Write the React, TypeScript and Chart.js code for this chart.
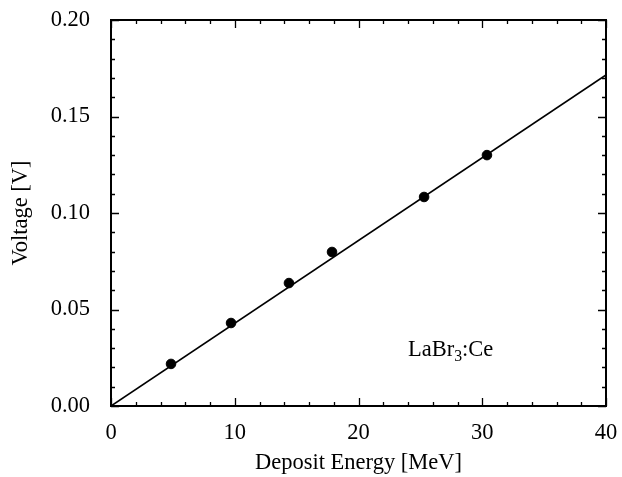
import React, { useEffect, useRef } from "react";
import { Chart, registerables } from "chart.js";

Chart.register(...registerables);

const energies = [4.85, 9.7, 14.38, 17.86, 25.3, 30.38];
const voltages = [0.0218, 0.043, 0.0637, 0.0798, 0.1083, 0.13];
const fitX = [0, 40];
const fitY = [0, 0.1715];
const xTicks = [0, 10, 20, 30, 40];
const yTicks = [0, 0.05, 0.1, 0.15, 0.2];
const xMinorStep = 2;
const yMinorStep = 0.01;
const labelPos = { x: 24.0, y: 0.0258 };
const FONT = "'Liberation Serif', 'Times New Roman', serif";
const FS = 22.5;

const framePlugin = {
  id: "frameTicks",
  afterDatasetsDraw(chart: any) {
    const { ctx, chartArea: a, scales } = chart;
    const xs = scales.x;
    const ys = scales.y;
    ctx.save();
    ctx.strokeStyle = "#000";
    ctx.lineWidth = 1.3;
    const major = 8;
    const minor = 4;
    const near = (v: number, arr: number[]) => arr.some((t) => Math.abs(t - v) < 1e-9);
    ctx.beginPath();
    for (let v = 0; v <= 40 + 1e-9; v += xMinorStep) {
      const px = Math.round(xs.getPixelForValue(v)) + 0.5;
      const len = near(v, xTicks) ? major : minor;
      ctx.moveTo(px, a.bottom);
      ctx.lineTo(px, a.bottom - len);
      ctx.moveTo(px, a.top);
      ctx.lineTo(px, a.top + len);
    }
    for (let i = 0; i <= 20; i++) {
      const v = i * yMinorStep;
      const py = Math.round(ys.getPixelForValue(v)) + 0.5;
      const len = near(Math.round(v * 1000) / 1000, yTicks) ? major : minor;
      ctx.moveTo(a.left, py);
      ctx.lineTo(a.left + len, py);
      ctx.moveTo(a.right, py);
      ctx.lineTo(a.right - len, py);
    }
    ctx.stroke();
    ctx.lineWidth = 2;
    ctx.strokeRect(a.left, a.top, a.right - a.left, a.bottom - a.top);

    // label
    const lx = xs.getPixelForValue(labelPos.x);
    const ly = ys.getPixelForValue(labelPos.y);
    ctx.fillStyle = "#000";
    ctx.textBaseline = "alphabetic";
    ctx.textAlign = "left";
    ctx.font = `${FS}px ${FONT}`;
    ctx.fillText("LaBr", lx, ly);
    let w = ctx.measureText("LaBr").width;
    ctx.font = `${FS * 0.7}px ${FONT}`;
    ctx.fillText("3", lx + w, ly + 5);
    w += ctx.measureText("3").width;
    ctx.font = `${FS}px ${FONT}`;
    ctx.fillText(":Ce", lx + w, ly);
    ctx.restore();
  },
};

const zeroPad = (s: any) => {
  s.paddingTop = 0;
  s.paddingBottom = 0;
  s.paddingLeft = 0;
  s.paddingRight = 0;
};

export default function App() {
  const ref = useRef<HTMLCanvasElement>(null);
  useEffect(() => {
    document.body.style.margin = "0";
    const ctx = ref.current!.getContext("2d")!;
    const chart = new Chart(ctx, {
      type: "scatter",
      data: {
        datasets: [
          {
            label: "fit",
            data: fitX.map((x, i) => ({ x, y: fitY[i] })),
            showLine: true,
            borderColor: "#000",
            borderWidth: 1.6,
            pointRadius: 0,
            fill: false,
          },
          {
            label: "data",
            data: energies.map((x, i) => ({ x, y: voltages[i] })),
            backgroundColor: "#000",
            borderColor: "#000",
            pointRadius: 4.8,
            pointHoverRadius: 4.8,
          },
        ],
      },
      options: {
        animation: false,
        responsive: false,
        maintainAspectRatio: false,
        layout: { padding: { left: 0, right: 16, top: 20, bottom: 0 } },
        plugins: { legend: { display: false }, tooltip: { enabled: false } },
        scales: {
          x: {
            type: "linear",
            min: 0,
            max: 40,
            afterFit: (s: any) => {
              s.height = 71;
              zeroPad(s);
            },
            afterBuildTicks: (s: any) => {
              s.ticks = xTicks.map((v) => ({ value: v }));
            },
            grid: { display: false },
            border: { display: false },
            ticks: {
              color: "#000",
              font: { family: FONT, size: FS },
              padding: 6,
              maxRotation: 0,
            },
            title: {
              display: true,
              text: "Deposit Energy [MeV]",
              color: "#000",
              font: { family: FONT, size: FS },
              padding: { top: 0, bottom: 0 },
            },
          },
          y: {
            type: "linear",
            min: 0,
            max: 0.2,
            afterFit: (s: any) => {
              s.width = 111;
              zeroPad(s);
            },
            afterBuildTicks: (s: any) => {
              s.ticks = yTicks.map((v) => ({ value: v }));
            },
            grid: { display: false },
            border: { display: false },
            ticks: {
              color: "#000",
              font: { family: FONT, size: FS },
              padding: 13,
              callback: (v: any) => Number(v).toFixed(2),
            },
            title: {
              display: true,
              text: "Voltage [V]",
              color: "#000",
              font: { family: FONT, size: FS },
              padding: { top: 8, bottom: 0 },
            },
          },
        },
      },
      plugins: [framePlugin],
    });
    return () => chart.destroy();
  }, []);
  return (
    <div style={{ position: "absolute", left: 0, top: 0, width: 622, height: 477, background: "#fff" }}>
      <canvas ref={ref} width={622} height={477} style={{ width: 622, height: 477 }} />
    </div>
  );
}
